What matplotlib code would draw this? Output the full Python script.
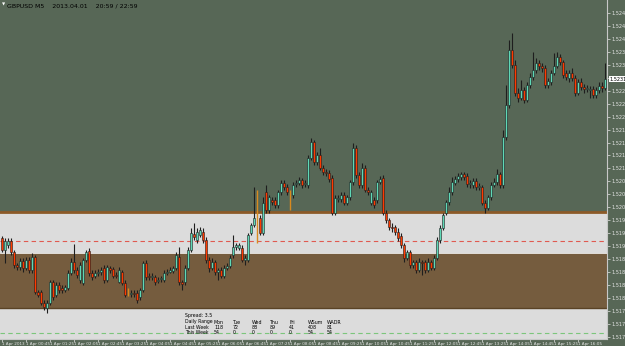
import matplotlib
matplotlib.use("Agg")
import matplotlib.pyplot as plt
import numpy as np

# GBPUSD M5, 1 Apr 2013 - OHLC
opens = [
    1.51944, 1.51916, 1.51928, 1.51937, 1.51912, 1.51882, 1.51877, 1.51891, 1.51875, 1.51893,
    1.51870, 1.51900, 1.51819, 1.51819, 1.51794, 1.51782, 1.51794, 1.51842, 1.51812, 1.51835,
    1.51828, 1.51824, 1.51828, 1.51863, 1.51889, 1.51870, 1.51847, 1.51840, 1.51893, 1.51914,
    1.51863, 1.51856, 1.51863, 1.51865, 1.51875, 1.51847, 1.51875, 1.51872, 1.51858, 1.51842,
    1.51865, 1.51840, 1.51819, 1.51814, 1.51817, 1.51817, 1.51808, 1.51824, 1.51886, 1.51856,
    1.51854, 1.51854, 1.51845, 1.51849, 1.51847, 1.51863, 1.51865, 1.51868, 1.51875, 1.51900,
    1.51842, 1.51842, 1.51875, 1.51916, 1.51953, 1.51939, 1.51951, 1.51958, 1.51939, 1.51893,
    1.51875, 1.51889, 1.51865, 1.51870, 1.51856, 1.51875, 1.51879, 1.51905, 1.51923, 1.51921,
    1.51921, 1.51893, 1.51893, 1.51956, 1.51974, 1.51986, 1.51990, 1.51956, 1.52051, 1.52009,
    1.52032, 1.52032, 1.52021, 1.52051, 1.52071, 1.52062, 1.52051, 1.52044, 1.52069, 1.52071,
    1.52078, 1.52069, 1.52067, 1.52129, 1.52166, 1.52120, 1.52136, 1.52106, 1.52097, 1.52095,
    1.52083, 1.52002, 1.52034, 1.52034, 1.52044, 1.52025, 1.52039, 1.52074, 1.52152, 1.52090,
    1.52067, 1.52106, 1.52055, 1.52025, 1.52032, 1.52032, 1.52074, 1.52083, 1.52002, 1.51986,
    1.51970, 1.51970, 1.51958, 1.51949, 1.51928, 1.51898, 1.51912, 1.51882, 1.51889, 1.51870,
    1.51889, 1.51889, 1.51870, 1.51889, 1.51875, 1.51898, 1.51939, 1.51967, 1.52002, 1.52027,
    1.52051, 1.52071, 1.52081, 1.52085, 1.52092, 1.52088, 1.52069, 1.52067, 1.52076, 1.52062,
    1.52062, 1.52025, 1.52014, 1.52039, 1.52067, 1.52074, 1.52092, 1.52067, 1.52178, 1.52252,
    1.52379, 1.52345, 1.52280, 1.52268, 1.52287, 1.52264, 1.52298, 1.52317, 1.52333, 1.52349,
    1.52342, 1.52338, 1.52298, 1.52305, 1.52326, 1.52342, 1.52363, 1.52352, 1.52326, 1.52315,
    1.52326, 1.52315, 1.52280, 1.52305, 1.52294, 1.52289, 1.52287, 1.52289, 1.52275, 1.52287,
    1.52296, 1.52291,
]
highs = [
    1.51949, 1.51944, 1.51944, 1.51944, 1.51916, 1.51886, 1.51898, 1.51898, 1.51900, 1.51900,
    1.51909, 1.51905, 1.51824, 1.51824, 1.51801, 1.51801, 1.51847, 1.51847, 1.51842, 1.51842,
    1.51835, 1.51835, 1.51870, 1.51898, 1.51930, 1.51877, 1.51889, 1.51898, 1.51916, 1.51921,
    1.51870, 1.51870, 1.51872, 1.51877, 1.51882, 1.51882, 1.51879, 1.51877, 1.51865, 1.51877,
    1.51870, 1.51847, 1.51828, 1.51824, 1.51824, 1.51824, 1.51828, 1.51891, 1.51893, 1.51863,
    1.51863, 1.51858, 1.51854, 1.51856, 1.51870, 1.51872, 1.51877, 1.51879, 1.51912, 1.51923,
    1.51847, 1.51882, 1.51923, 1.51967, 1.51979, 1.51967, 1.51970, 1.51967, 1.51946, 1.51900,
    1.51898, 1.51893, 1.51875, 1.51877, 1.51882, 1.51886, 1.51905, 1.51951, 1.51933, 1.51933,
    1.51928, 1.51905, 1.51956, 1.51979, 1.52062, 1.52055, 1.51997, 1.52039, 1.52067, 1.52044,
    1.52039, 1.52039, 1.52055, 1.52078, 1.52078, 1.52069, 1.52055, 1.52074, 1.52078, 1.52085,
    1.52083, 1.52078, 1.52136, 1.52176, 1.52171, 1.52143, 1.52152, 1.52113, 1.52104, 1.52102,
    1.52090, 1.52044, 1.52044, 1.52051, 1.52051, 1.52044, 1.52078, 1.52164, 1.52159, 1.52097,
    1.52118, 1.52113, 1.52062, 1.52055, 1.52039, 1.52078, 1.52088, 1.52090, 1.52009, 1.51990,
    1.51979, 1.51974, 1.51967, 1.51956, 1.51933, 1.51916, 1.51916, 1.51893, 1.51893, 1.51898,
    1.51893, 1.51893, 1.51898, 1.51893, 1.51905, 1.51946, 1.51974, 1.52002, 1.52032, 1.52062,
    1.52085, 1.52088, 1.52095, 1.52097, 1.52097, 1.52095, 1.52078, 1.52083, 1.52083, 1.52071,
    1.52067, 1.52032, 1.52044, 1.52074, 1.52083, 1.52104, 1.52097, 1.52194, 1.52298, 1.52402,
    1.52419, 1.52356, 1.52291, 1.52310, 1.52294, 1.52305, 1.52326, 1.52375, 1.52361, 1.52356,
    1.52349, 1.52345, 1.52315, 1.52333, 1.52372, 1.52375, 1.52370, 1.52356, 1.52333, 1.52333,
    1.52338, 1.52321, 1.52312, 1.52315, 1.52301, 1.52298, 1.52296, 1.52296, 1.52294, 1.52305,
    1.52305, 1.52349,
]
lows = [
    1.51912, 1.51886, 1.51921, 1.51905, 1.51875, 1.51870, 1.51870, 1.51865, 1.51870, 1.51863,
    1.51863, 1.51814, 1.51808, 1.51789, 1.51777, 1.51770, 1.51789, 1.51801, 1.51808, 1.51817,
    1.51817, 1.51819, 1.51824, 1.51858, 1.51863, 1.51852, 1.51840, 1.51835, 1.51889, 1.51856,
    1.51847, 1.51852, 1.51856, 1.51858, 1.51840, 1.51842, 1.51863, 1.51852, 1.51852, 1.51840,
    1.51835, 1.51808, 1.51810, 1.51808, 1.51808, 1.51794, 1.51801, 1.51819, 1.51847, 1.51847,
    1.51847, 1.51835, 1.51840, 1.51842, 1.51842, 1.51858, 1.51863, 1.51863, 1.51870, 1.51835,
    1.51824, 1.51835, 1.51870, 1.51912, 1.51939, 1.51933, 1.51946, 1.51933, 1.51886, 1.51865,
    1.51870, 1.51858, 1.51847, 1.51852, 1.51852, 1.51870, 1.51875, 1.51898, 1.51916, 1.51916,
    1.51889, 1.51882, 1.51889, 1.51951, 1.51970, 1.51933, 1.51951, 1.51951, 1.52002, 1.52002,
    1.52021, 1.52014, 1.52014, 1.52044, 1.52055, 1.52044, 1.52009, 1.52037, 1.52062, 1.52067,
    1.52060, 1.52062, 1.52060, 1.52125, 1.52113, 1.52113, 1.52102, 1.52090, 1.52088, 1.52074,
    1.51997, 1.51997, 1.52027, 1.52027, 1.52021, 1.52021, 1.52032, 1.52067, 1.52083, 1.52060,
    1.52060, 1.52051, 1.52044, 1.52021, 1.52014, 1.52025, 1.52069, 1.51997, 1.51979, 1.51963,
    1.51958, 1.51951, 1.51937, 1.51921, 1.51889, 1.51893, 1.51875, 1.51875, 1.51863, 1.51865,
    1.51858, 1.51863, 1.51865, 1.51870, 1.51870, 1.51893, 1.51933, 1.51963, 1.51997, 1.52021,
    1.52044, 1.52067, 1.52074, 1.52078, 1.52078, 1.52062, 1.52060, 1.52060, 1.52055, 1.52055,
    1.52021, 1.52002, 1.52009, 1.52032, 1.52062, 1.52067, 1.52060, 1.52060, 1.52171, 1.52245,
    1.52338, 1.52273, 1.52259, 1.52264, 1.52257, 1.52259, 1.52291, 1.52310, 1.52326, 1.52333,
    1.52328, 1.52291, 1.52291, 1.52298, 1.52321, 1.52338, 1.52345, 1.52315, 1.52310, 1.52305,
    1.52308, 1.52273, 1.52275, 1.52287, 1.52280, 1.52282, 1.52268, 1.52268, 1.52268, 1.52280,
    1.52282, 1.52287,
]
closes = [
    1.51916, 1.51937, 1.51937, 1.51912, 1.51882, 1.51877, 1.51891, 1.51875, 1.51893, 1.51870,
    1.51900, 1.51819, 1.51812, 1.51794, 1.51784, 1.51794, 1.51842, 1.51808, 1.51835, 1.51824,
    1.51824, 1.51831, 1.51863, 1.51889, 1.51870, 1.51858, 1.51882, 1.51893, 1.51912, 1.51863,
    1.51854, 1.51863, 1.51865, 1.51870, 1.51847, 1.51877, 1.51870, 1.51856, 1.51856, 1.51870,
    1.51840, 1.51812, 1.51819, 1.51817, 1.51814, 1.51801, 1.51824, 1.51886, 1.51854, 1.51854,
    1.51856, 1.51842, 1.51847, 1.51852, 1.51863, 1.51865, 1.51870, 1.51875, 1.51905, 1.51842,
    1.51838, 1.51875, 1.51916, 1.51956, 1.51946, 1.51958, 1.51963, 1.51939, 1.51893, 1.51875,
    1.51889, 1.51865, 1.51870, 1.51856, 1.51875, 1.51879, 1.51898, 1.51923, 1.51928, 1.51928,
    1.51893, 1.51898, 1.51951, 1.51974, 1.51990, 1.51986, 1.51956, 1.52025, 1.52009, 1.52039,
    1.52027, 1.52021, 1.52051, 1.52071, 1.52062, 1.52051, 1.52051, 1.52067, 1.52071, 1.52078,
    1.52067, 1.52071, 1.52129, 1.52166, 1.52120, 1.52136, 1.52106, 1.52097, 1.52095, 1.52081,
    1.52002, 1.52037, 1.52037, 1.52044, 1.52025, 1.52039, 1.52074, 1.52152, 1.52090, 1.52067,
    1.52106, 1.52055, 1.52051, 1.52051, 1.52021, 1.52074, 1.52081, 1.52002, 1.51986, 1.51970,
    1.51967, 1.51958, 1.51944, 1.51928, 1.51898, 1.51912, 1.51882, 1.51889, 1.51870, 1.51889,
    1.51886, 1.51870, 1.51889, 1.51875, 1.51898, 1.51939, 1.51967, 1.51997, 1.52027, 1.52051,
    1.52074, 1.52081, 1.52088, 1.52092, 1.52085, 1.52069, 1.52071, 1.52076, 1.52062, 1.52065,
    1.52025, 1.52014, 1.52039, 1.52067, 1.52074, 1.52092, 1.52067, 1.52178, 1.52252, 1.52379,
    1.52345, 1.52280, 1.52268, 1.52287, 1.52264, 1.52298, 1.52317, 1.52333, 1.52349, 1.52342,
    1.52338, 1.52298, 1.52308, 1.52326, 1.52342, 1.52363, 1.52352, 1.52321, 1.52317, 1.52326,
    1.52315, 1.52280, 1.52305, 1.52294, 1.52289, 1.52291, 1.52289, 1.52275, 1.52287, 1.52296,
    1.52291, 1.52312,
]

time_labels = ["1 Apr 2013", "1 Apr 00:45", "1 Apr 01:25", "1 Apr 02:05", "1 Apr 02:45",
               "1 Apr 03:25", "1 Apr 04:05", "1 Apr 04:45", "1 Apr 05:25", "1 Apr 06:05",
               "1 Apr 06:45", "1 Apr 07:25", "1 Apr 08:05", "1 Apr 08:45", "1 Apr 09:25",
               "1 Apr 10:05", "1 Apr 10:45", "1 Apr 11:25", "1 Apr 12:05", "1 Apr 12:45",
               "1 Apr 13:25", "1 Apr 14:05", "1 Apr 14:45", "1 Apr 15:25", "1 Apr 16:05"]
bars_per_label = 8

price_ticks = [1.52465 - 0.0003 * k for k in range(26)]

# supply / demand zones and levels
zone_top = 1.52004
zone_mid = 1.51909
zone_low = 1.51782
red_level = 1.51937
green_level = 1.51724

days = ["Mon", "Tue", "Wed", "Thu", "Fri", "WSum", "WADR"]
last_week = ["118", "72", "88", "89", "41", "408", "81"]
this_week = ["54", "0", "0", "0", "0", "54", "54"]
spread = "3.5"

BG = "#576756"
LIGHT = "#dcdcdc"
BROWN = "#755c3e"
BULL = "#5fd8b6"
BEAR = "#ff3a00"
DOJI = "#d98a1e"
WICK = "#1e1e1e"
TXT = "#e4e4e4"

o = np.array(opens); h = np.array(highs); l = np.array(lows); c = np.array(closes)
x = np.arange(len(o))

fig = plt.figure(figsize=(6.25, 3.46), dpi=100, facecolor=BG)
ax = fig.add_axes([0, 7/346, 607/625, 339/346], facecolor=BG)
ax.set_xlim(-0.7, 201.7)
ax.set_ylim(1.51710, 1.52495)

ax.axhspan(zone_mid, zone_top - 0.00002, color=LIGHT, lw=0, zorder=0)
ax.axhspan(zone_low, zone_mid, color=BROWN, lw=0, zorder=0)
ax.axhspan(1.51700, zone_low, color=LIGHT, lw=0, zorder=0)
ax.axhline(zone_top, color="#8c5a28", lw=2, zorder=1)
ax.axhline(zone_low, color="#5a4326", lw=1, zorder=1)
ax.axhline(zone_mid, color="#f4f4f4", lw=0.6, zorder=1)
ax.axhline(red_level, color="#e05a50", lw=0.8, dashes=(4, 3), zorder=1)
ax.axhline(green_level, color="#7cc67c", lw=0.8, dashes=(4, 3), zorder=1)

up = c > o
dn = c < o
dj = c == o
ax.vlines(x[~dj], l[~dj], h[~dj], color=WICK, lw=0.8, zorder=2)
ax.vlines(x[dj], l[dj], h[dj], color=DOJI, lw=1.0, zorder=2)
ax.bar(x[up], (c - o)[up], bottom=o[up], width=0.75, color=BULL,
       edgecolor=WICK, linewidth=0.4, zorder=3)
ax.bar(x[dn], (o - c)[dn], bottom=c[dn], width=0.75, color=BEAR,
       edgecolor=WICK, linewidth=0.4, zorder=3)

# axes look like the terminal
for s in ["top", "left"]:
    ax.spines[s].set_visible(False)
for s in ["right", "bottom"]:
    ax.spines[s].set_color("#c8c8c8")
    ax.spines[s].set_linewidth(0.8)
ax.yaxis.tick_right()
ax.set_yticks(price_ticks)
ax.set_yticklabels([f"{p:.5f}" for p in price_ticks])
ax.tick_params(axis="y", colors=TXT, labelsize=3.6, length=2, width=0.5, pad=1.2)
ax.set_xticks(np.arange(len(time_labels)) * bars_per_label)
ax.set_xticklabels(time_labels, ha="left")
ax.tick_params(axis="x", colors=TXT, labelsize=3.0, length=2, width=0.5, pad=0.5)

# current price box (covers the price scale label it sits on)
for lab, p in zip(ax.get_yticklabels(), price_ticks):
    if abs(p - c[-1]) < 0.00012:
        lab.set_visible(False)
ax.text(1.004, c[-1], f"{c[-1]:.5f}", transform=ax.get_yaxis_transform(),
        fontsize=3.6, color="black", va="center", ha="left",
        bbox=dict(boxstyle="square,pad=0.15", fc="white", ec="none"), zorder=5)

fig.text(7/625, 1 - 6/346, "GBPUSD M5    2013.04.01    20:59 / 22:59",
         fontsize=4.5, color="black", va="center", ha="left")
fig.text(2/625, 1 - 4/346, "\u25bc", fontsize=3, color="white", va="center", ha="left")

# daily range panel
tx = 185
fig.text(tx/625, 1 - 315/346, f"Spread: {spread}", fontsize=3.4, color="black", va="center")
cols = [214, 233, 252, 270, 289, 308, 327]
rows = [("Daily Range", days, 322), ("Last Week", last_week, 327.5), ("This Week", this_week, 333)]
for name, vals, yy in rows:
    fig.text(tx/625, 1 - yy/346, name, fontsize=3.3, color="black", va="center")
    for cx, v in zip(cols, vals):
        fig.text(cx/625, 1 - yy/346, v, fontsize=3.4, color="black", va="center")

fig.savefig("out.png", dpi=100, facecolor=BG)
